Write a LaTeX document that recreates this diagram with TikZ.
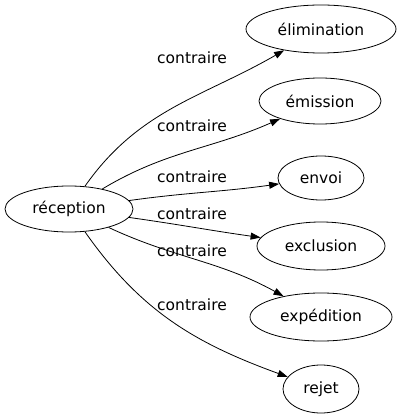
\documentclass[tikz,border=0pt]{standalone}
\usepackage{fontspec}
\setmainfont{DejaVu Sans}
\usepackage{tikz}
\usetikzlibrary{arrows.meta}
\usetikzlibrary{positioning}
\usetikzlibrary{shapes.geometric}
\tikzset{word/.style = {draw, ellipse, line width = 0.8pt, inner sep = 0, font = \fontsize{15.5}{18}\selectfont}}
\tikzset{rel/.style = {font = \fontsize{15.5}{18}\selectfont, inner sep = 0}}
\tikzset{edge/.style = {line width = 0.8pt, -{Triangle[length = 10pt, width = 7pt]}}}

\begin{document}
\begin{tikzpicture}[x = 1pt, y = -1pt]
    \useasboundingbox (0, 0) rectangle (401, 419);

    \node [word, minimum width = 128, minimum height = 46] (rec) at (69, 209) {réception};

    \node [word, minimum width = 150, minimum height = 48] (eli) at (321, 29) {élimination};
    \node [word, minimum width = 122, minimum height = 46] (emi) at (320, 101) {émission};
    \node [word, minimum width = 86, minimum height = 44] (env) at (321, 178) {envoi};
    \node [word, minimum width = 128, minimum height = 48] (exc) at (321, 246) {exclusion};
    \node [word, minimum width = 142, minimum height = 48] (exp) at (321, 317) {expédition};
    \node [word, minimum width = 76, minimum height = 48] (rej) at (321, 389) {rejet};

    \draw [edge] (rec) to [out = 55, in = 210] (eli);
    \draw [edge] (rec) to [out = 31, in = 204] (emi);
    \draw [edge] (rec) to [out = 8, in = 188] (env);
    \draw [edge] (rec) to [out = -8, in = 172] (exc);
    \draw [edge] (rec) to [out = -25, in = 151] (exp);
    \draw [edge] (rec) to [out = -55, in = 160] (rej);

    \node [rel] (c1) at (192, 58) {contraire};
    \node [rel] (c2) at (192, 126) {contraire};
    \node [rel] (c3) at (192, 177) {contraire};
    \node [rel] (c4) at (192, 214) {contraire};
    \node [rel] (c5) at (192, 251) {contraire};
    \node [rel] (c6) at (192, 305) {contraire};

  \end{tikzpicture}
\end{document}
